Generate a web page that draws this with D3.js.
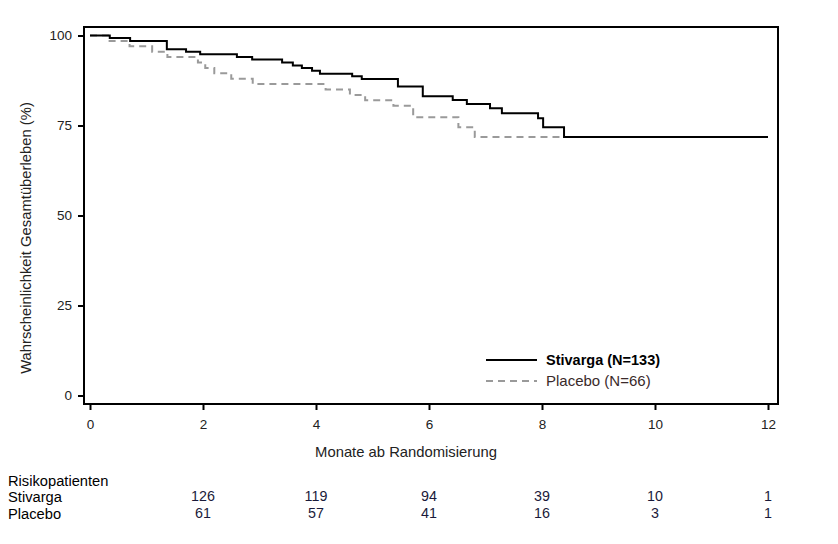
<!DOCTYPE html>
<html><head><meta charset="utf-8">
<script src="https://cdn.jsdelivr.net/npm/d3@7"></script>
<style>body{margin:0;background:#fff;}svg{display:block;font-family:"Liberation Sans",Arial,sans-serif;}</style>
</head><body><svg id="c" width="838" height="544"></svg>
<script>
// Kaplan-Meier steps: [month, survival %]
const stivargaT = [0,0.35,0.71,1.36,1.70,1.95,2.60,2.87,3.40,3.59,3.75,3.93,4.07,4.64,4.81,5.45,5.89,6.42,6.67,7.08,7.29,7.93,8.02,8.39,12.0];
const stivargaS = [100,99.3,98.5,96.2,95.5,94.8,94.0,93.3,92.5,91.7,91.0,90.2,89.4,88.7,87.9,85.8,83.1,82.1,81.0,79.8,78.4,77.0,74.5,71.8,71.8];
const placeboT = [0,0.32,0.70,1.10,1.37,1.91,2.04,2.20,2.50,2.88,4.17,4.60,4.87,5.37,5.72,6.52,6.81,12.0];
const placeboS = [100,98.5,97.0,95.5,94.0,92.5,91.0,89.5,88.0,86.5,85.0,83.5,82.0,80.5,77.3,74.5,71.8,71.8];
const xTicks = [0,2,4,6,8,10,12];
const yTicks = [0,25,50,75,100];
const riskTimes = [2,4,6,8,10,12];
const riskStivarga = [126,119,94,39,10,1];
const riskPlacebo = [61,57,41,16,3,1];
const legendLabels = ["Stivarga (N=133)","Placebo (N=66)"];

const svg = d3.select("#c");
const frame = {l:84, r:778, t:27, b:404};
const x = d3.scaleLinear().domain([0,12]).range([90,768]);
const y = d3.scaleLinear().domain([0,100]).range([395.5,35.5]);
const txt = "#222";

// frame
svg.append("rect").attr("x",frame.l).attr("y",frame.t).attr("width",frame.r-frame.l).attr("height",frame.b-frame.t)
  .attr("fill","none").attr("stroke","#000").attr("stroke-width",2);

// y axis
const yAxis = d3.axisLeft(y).tickValues(yTicks).tickSize(6).tickPadding(6);
const gy = svg.append("g").attr("transform",`translate(${frame.l},0)`).call(yAxis);
gy.select(".domain").remove();
gy.selectAll("line").attr("stroke","#000").attr("stroke-width",2);
gy.selectAll("text").attr("font-size",13.5).attr("fill",txt).attr("font-family","Liberation Sans, Arial");

// x axis
const xAxis = d3.axisBottom(x).tickValues(xTicks).tickSize(6).tickPadding(9);
const gx = svg.append("g").attr("transform",`translate(0,${frame.b})`).call(xAxis);
gx.select(".domain").remove();
gx.selectAll("line").attr("stroke","#000").attr("stroke-width",2);
gx.selectAll("text").attr("font-size",13.5).attr("fill",txt).attr("font-family","Liberation Sans, Arial");

// axis titles
svg.append("text").attr("x",406).attr("y",457).attr("text-anchor","middle").attr("font-size",14.8).attr("fill",txt)
  .text("Monate ab Randomisierung");
svg.append("text").attr("transform","translate(31,238) rotate(-90)").attr("text-anchor","middle").attr("font-size",14.8).attr("fill",txt)
  .text("Wahrscheinlichkeit Gesamtüberleben (%)");

// curves
const line = d3.line().x(d=>x(d[0])).y(d=>y(d[1])).curve(d3.curveStepAfter);
const pl = placeboT.map((t,i)=>[t,placeboS[i]]);
const st = stivargaT.map((t,i)=>[t,stivargaS[i]]);
svg.append("path").datum(pl).attr("d",line).attr("fill","none").attr("stroke","#9a9a9a").attr("stroke-width",2).attr("stroke-dasharray","7,5");
svg.append("path").datum(st).attr("d",line).attr("fill","none").attr("stroke","#000").attr("stroke-width",2);

// legend
const lg = svg.append("g");
lg.append("line").attr("x1",486).attr("x2",537).attr("y1",360).attr("y2",360).attr("stroke","#000").attr("stroke-width",2);
lg.append("line").attr("x1",486).attr("x2",537).attr("y1",381).attr("y2",381).attr("stroke","#9a9a9a").attr("stroke-width",2).attr("stroke-dasharray","7,5");
lg.append("text").attr("x",546).attr("y",360).attr("dy","0.35em").attr("font-size",14.5).attr("font-weight","bold").attr("fill","#000").text(legendLabels[0]);
lg.append("text").attr("x",546).attr("y",381).attr("dy","0.35em").attr("font-size",15).attr("fill","#3a2a2a").text(legendLabels[1]);

// risk table
svg.append("text").attr("x",8).attr("y",486).attr("font-size",14.7).attr("fill","#000").text("Risikopatienten");
svg.append("text").attr("x",8).attr("y",502).attr("font-size",14.7).attr("fill","#000").text("Stivarga");
svg.append("text").attr("x",8).attr("y",519).attr("font-size",14.7).attr("fill","#000").text("Placebo");
svg.append("g").selectAll("text").data(riskTimes).join("text")
  .attr("x",d=>x(d)).attr("y",501).attr("text-anchor","middle").attr("font-size",14.3).attr("fill","#1a1a3a")
  .text((d,i)=>riskStivarga[i]);
svg.append("g").selectAll("text").data(riskTimes).join("text")
  .attr("x",d=>x(d)).attr("y",518).attr("text-anchor","middle").attr("font-size",14.3).attr("fill","#1a1a3a")
  .text((d,i)=>riskPlacebo[i]);
</script></body></html>
